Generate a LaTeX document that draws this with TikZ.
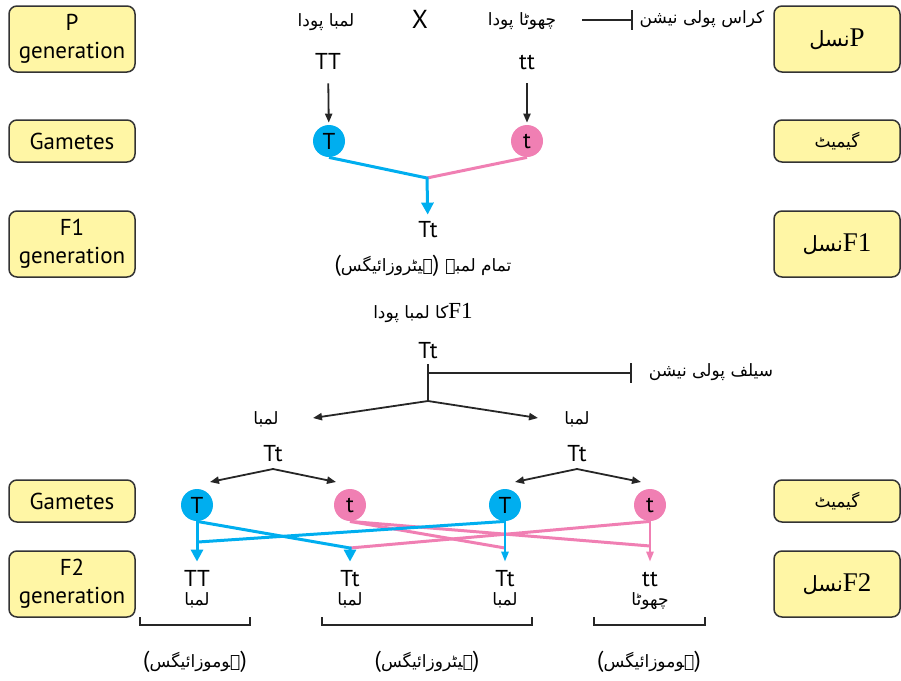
\documentclass[tikz,border=0pt]{standalone}
\usepackage{fontspec}
\setmainfont{PT Sans}
\newfontfamily\urdu[Script=Arabic]{DejaVu Sans}
\newfontfamily\latinserif{Liberation Serif}
\TeXXeTstate=1
\usepackage{tikz}
\usetikzlibrary{arrows.meta,positioning,calc}
\definecolor{boxfill}{HTML}{FFF6A5}
\definecolor{boxline}{HTML}{333333}
\definecolor{domblue}{HTML}{00AEEF}
\definecolor{recpink}{HTML}{F07FB3}
\newcommand{\ur}[1]{{\urdu\fontsize{8.5}{10}\selectfont\beginR #1\endR}}
\newcommand{\urbig}[1]{{\urdu\fontsize{10.5}{12}\selectfont\beginR #1\endR}}

\begin{document}
\begin{tikzpicture}[
  x=0.5pt, y=-0.5pt,
  genbox/.style={rectangle, draw=boxline, line width=0.75pt, fill=boxfill, rounded corners=4pt, minimum width=63pt, minimum height=21pt, align=center, inner sep=1pt, font=\fontsize{11.5}{14}\selectfont},
  tallbox/.style={genbox, minimum height=33pt},
  nasl/.style={tallbox, font=\latinserif\fontsize{13.5}{15}\selectfont},
  allele/.style={inner sep=1pt, text height=8pt, text depth=0pt, font=\fontsize{11.5}{14}\selectfont},
  urtext/.style={inner sep=1pt, font=\fontsize{11.5}{14}\selectfont},
  Tgam/.style={circle, fill=domblue, minimum size=16pt, inner sep=0pt, font=\fontsize{11.5}{14}\selectfont},
  tgam/.style={Tgam, fill=recpink},
  blkline/.style={line width=0.9pt, draw=black!85},
  blkarrow/.style={blkline, -{Triangle[length=4.5pt,width=3.6pt]}},
  barline/.style={blkline, -{Bar[width=10pt,line width=0.9pt]}},
  blueline/.style={draw=domblue, line width=1.5pt},
  pinkline/.style={draw=recpink, line width=1.5pt},
  bluearrow/.style={blueline, -{Triangle[length=6pt,width=6pt]}},
  bluesmall/.style={draw=domblue, line width=1pt, -{Triangle[length=5pt,width=3.6pt]}},
  pinksmall/.style={draw=recpink, line width=1pt, -{Triangle[length=5pt,width=3.6pt]}},
  bracket/.style={line width=1pt, draw=black!85}
]
  \useasboundingbox (0,0) rectangle (901,681);

  \node[tallbox] (pgen) at (72,39) {P\\generation};
  \node[genbox] (gamL) at (72,141) {Gametes};
  \node[tallbox] (f1gen) at (72,244) {F1\\generation};
  \node[genbox] (gamL2) at (72,501) {Gametes};
  \node[tallbox] (f2gen) at (72,584) {F2\\generation};

  \node[nasl] (pnasl) at (837,39) {\urbig{نسل}P};
  \node[genbox] (gamR) at (837,141) {\ur{گیمیٹ}};
  \node[nasl] (f1nasl) at (837,244) {\urbig{نسل}F1};
  \node[genbox] (gamR2) at (837,501) {\ur{گیمیٹ}};
  \node[nasl] (f2nasl) at (837,584) {\urbig{نسل}F2};

  \node[urtext] (tallP) at (326,22) {\ur{لمبا پودا}};
  \node[urtext, font=\fontsize{13}{15}\selectfont] (crossX) at (420,19) {X};
  \node[urtext] (shortP) at (522,21) {\ur{چھوٹا پودا}};
  \node[urtext] (crossTxt) at (702,19) {\ur{کراس پولی نیشن}};
  \coordinate (crossA) at (582,20);
  \coordinate (crossB) at (633,20);
  \draw[barline] (crossA) -- (crossB);

  \node[allele] (TTp) at (328,61) {TT};
  \node[allele] (ttp) at (527,61) {tt};
  \node[Tgam] (Tp) at (329,141) {T};
  \node[tgam] (tp) at (527,141) {t};
  \draw[blkarrow, shorten <=6pt, shorten >=1pt] (TTp) -- (Tp);
  \draw[blkarrow, shorten <=6pt, shorten >=1pt] (ttp) -- (tp);

  \coordinate (f1join) at (427,178);
  \node[allele] (TtF1) at (428,229) {Tt};
  \draw[pinkline] (tp.south) -- (f1join);
  \draw[bluearrow, shorten >=2pt] (Tp.south) -- (f1join) -- (TtF1);

  \node[urtext] (f1txt) at (423,266) {(\ur{ہیٹروزائیگس}) \ur{تمام لمبے}};
  \node[urtext] (f1plant) at (423,313) {\ur{کا لمبا پودا}{\latinserif F1}};
  \node[allele] (TtSelf) at (428,350) {Tt};
  \coordinate (selfsplit) at (428,401);
  \coordinate (selfA) at (428,373);
  \coordinate (selfB) at (632,373);
  \draw[blkline, shorten <=2pt] (TtSelf) -- (selfsplit);
  \draw[barline] (selfA) -- (selfB);
  \node[urtext] (selfTxt) at (711,372) {\ur{سیلف پولی نیشن}};

  \coordinate (tipL) at (313,418);
  \coordinate (tipR) at (538,418);
  \draw[blkarrow] (selfsplit) -- (tipL);
  \draw[blkarrow] (selfsplit) -- (tipR);
  \node[urtext] (tallL) at (266,419) {\ur{لمبا}};
  \node[urtext] (tallR) at (577,419) {\ur{لمبا}};
  \node[allele] (TtL) at (273,453) {Tt};
  \node[allele] (TtR) at (577,453) {Tt};

  \node[Tgam] (T1) at (197,505) {T};
  \node[tgam] (t2) at (350,505) {t};
  \node[Tgam] (T3) at (505,505) {T};
  \node[tgam] (t4) at (650,505) {t};
  \coordinate (splitL) at (273,469);
  \coordinate (splitR) at (577,469);
  \draw[blkarrow] (splitL) -- (210,482);
  \draw[blkarrow] (splitL) -- (336,482);
  \draw[blkarrow] (splitR) -- (515,482);
  \draw[blkarrow] (splitR) -- (641,482);

  \node[allele] (TTa) at (197,578) {TT};
  \node[allele] (Tta) at (350,578) {Tt};
  \node[allele] (Ttb) at (505,578) {Tt};
  \node[allele] (ttb) at (650,578) {tt};
  \node[urtext, below=1pt of TTa] (pha) {\ur{لمبا}};
  \node[urtext, below=1pt of Tta] (phb) {\ur{لمبا}};
  \node[urtext, below=1pt of Ttb] (phc) {\ur{لمبا}};
  \node[urtext, below=1pt of ttb] (phd) {\ur{چھوٹا}};

  \coordinate (jTT) at (198,542);
  \coordinate (jTta) at (350,548);
  \coordinate (jTtb) at (505,548);
  \coordinate (jttb) at (650,546);
  \draw[pinkline] (t2.south) -- (jTtb);
  \draw[pinkline] (t2.south) -- (jttb);
  \draw[pinkline] (t4.south) -- (jTta);
  \draw[blueline] (T3.south) -- (jTT);
  \draw[bluearrow, shorten >=3pt] (T1.south) -- (jTta) -- (Tta);
  \draw[bluearrow, shorten >=3pt] (T1.south) -- (TTa);
  \draw[bluesmall, shorten >=3pt] (T3.south) -- (Ttb);
  \draw[pinksmall, shorten >=3pt] (t4.south) -- (ttb);

  \draw[bracket] (140,617) -- (140,625) -- (250,625) -- (250,617);
  \draw[bracket] (322,617) -- (322,625) -- (532,625) -- (532,617);
  \draw[bracket] (594,617) -- (594,625) -- (705,625) -- (705,617);
  \node[urtext] (zyga) at (195,662) {(\ur{ہوموزائیگس})};
  \node[urtext] (zygb) at (427,662) {(\ur{ہیٹروزائیگس})};
  \node[urtext] (zygc) at (649,662) {(\ur{ہوموزائیگس})};
\end{tikzpicture}
\end{document}
